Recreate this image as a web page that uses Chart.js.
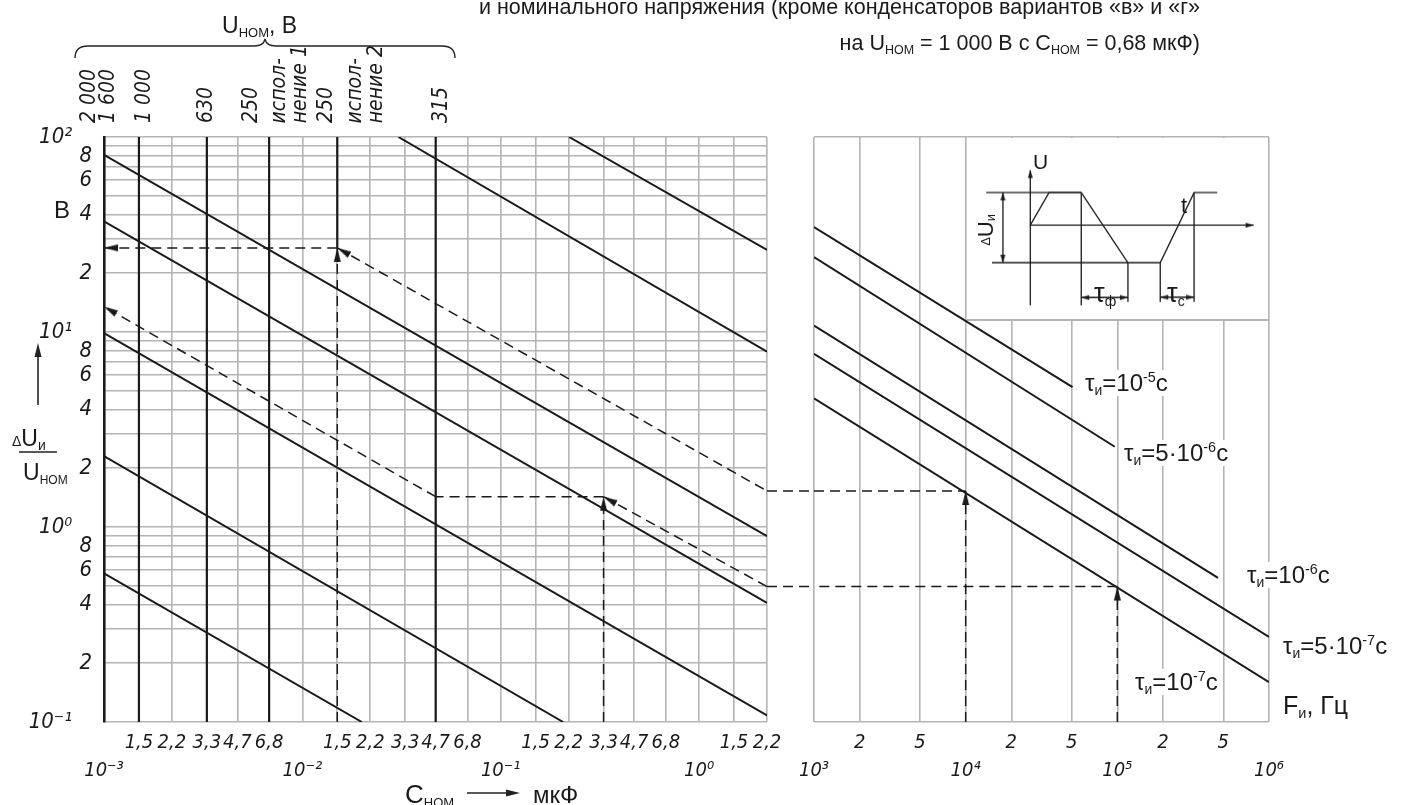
<!DOCTYPE html>
<html><head><meta charset="utf-8"><title>Номограмма</title>
<script src="https://cdn.jsdelivr.net/npm/chart.js@4.4.1/dist/chart.umd.min.js"></script>
<style>
html,body{margin:0;padding:0;background:#fff;}
#wrap{position:relative;width:1407px;height:805px;overflow:hidden;background:#fff;color:#1a1a1a;font-family:'Liberation Sans',Arial,sans-serif;}
#wrap canvas{position:absolute;}
#deco{position:absolute;left:0;top:0;}
.t{position:absolute;white-space:nowrap;line-height:1;}
.n{font-family:'Liberation Sans Narrow','DejaVu Sans Condensed','Liberation Sans',sans-serif;font-style:italic;}
.vr{writing-mode:vertical-rl;transform:rotate(180deg);}
.sb{font-size:0.58em;position:relative;top:0.3em;line-height:0;}
.sp{font-size:0.6em;position:relative;top:-0.6em;line-height:0;}
.tau{font-size:24px;background:#fff;padding:1px 2px;}
</style></head>
<body><div id="wrap">
<canvas id="cL" width="790" height="805" style="left:0;top:0"></canvas>
<canvas id="cG" width="60" height="805" style="left:760px;top:0"></canvas>
<canvas id="cR" width="617" height="805" style="left:790px;top:0"></canvas>
<canvas id="cI" width="301" height="183" style="left:967px;top:138px;background:#fff;border-bottom:2px solid #b4b4b4"></canvas>
<svg id="deco" width="1407" height="805">
  <path d="M75,58 C75,50 79,46 88,46 L254,46 C260,46 264,44 265,39 C266,44 270,46 276,46 L442,46 C451,46 455,50 455,58" fill="none" stroke="#222" stroke-width="1.3"/>
  <line x1="38" y1="405" x2="38" y2="354" stroke="#222" stroke-width="1.6"/>
  <polygon points="38,343 34.5,357 41.5,357" fill="#222"/>
  <line x1="19" y1="452" x2="57" y2="452" stroke="#222" stroke-width="1.3"/>
  <line x1="467" y1="793" x2="508" y2="793" stroke="#222" stroke-width="1.6"/>
  <polygon points="520,793 506,789.5 506,796.5" fill="#222"/>
</svg>

<div class="t" style="right:207px;top:-3px;font-size:21.5px">и номинального напряжения (кроме конденсаторов вариантов «в» и «г»</div>
<div class="t" style="right:207px;top:33px;font-size:21.5px">на U<span class="sb">НОМ</span> = 1 000 В с C<span class="sb">НОМ</span> = 0,68 мкФ)</div>
<div class="t" style="left:222px;top:14px;font-size:23px">U<span class="sb" style="font-size:13px">НОМ</span>, В</div>

<div class="t" style="left:54px;top:198px;font-size:24px">В</div>
<div class="t" style="left:12px;top:427px;font-size:23px"><span style="font-size:14px">Δ</span>U<span class="sb" style="font-size:14px">и</span></div>
<div class="t" style="left:23px;top:461px;font-size:23px">U<span class="sb" style="font-size:12px">НОМ</span></div>
<div class="t" style="left:405px;top:781px;font-size:26px">C<span class="sb" style="font-size:13px">НОМ</span></div>
<div class="t" style="left:533px;top:783px;font-size:24px">мкФ</div>

<div class="t" style="left:1033px;top:151px;font-size:21px">U</div>
<div class="t" style="left:1181px;top:195px;font-size:22px">t</div>
<div class="t vr" style="left:976px;bottom:559px;font-size:22px;line-height:20px;width:20px"><span style="font-size:13px">Δ</span>U<span style="font-size:13px;vertical-align:sub">и</span></div>
<div class="t" style="left:1094px;top:280px;font-size:27px">τ<span class="sb" style="font-size:14px">ф</span></div>
<div class="t" style="left:1167px;top:280px;font-size:27px">τ<span class="sb" style="font-size:14px">с</span></div>

<div class="t tau" style="left:1083px;top:370px">τ<span class="sb">и</span>=10<span class="sp">-5</span>с</div>
<div class="t tau" style="left:1122px;top:440px">τ<span class="sb">и</span>=5·10<span class="sp">-6</span>с</div>
<div class="t tau" style="left:1245px;top:562px">τ<span class="sb">и</span>=10<span class="sp">-6</span>с</div>
<div class="t tau" style="left:1281px;top:633px">τ<span class="sb">и</span>=5·10<span class="sp">-7</span>с</div>
<div class="t tau" style="left:1133px;top:669px">τ<span class="sb">и</span>=10<span class="sp">-7</span>с</div>
<div class="t" style="left:1283px;top:693px;font-size:25px">F<span class="sb">и</span>, Гц</div>
<div id="unom"></div>
</div>
<script>
// ================= DATA =================
// Left nomogram: C_ном (мкФ) on x, ΔU_и/U_ном (В) on y
const cTicks = [0.001,0.0015,0.0022,0.0033,0.0047,0.0068,0.01,0.015,0.022,0.033,0.047,0.068,0.1,0.15,0.22,0.33,0.47,0.68,1,1.5,2.2];
const cTickLabels = [['','10⁻³'],'1,5','2,2','3,3','4,7','6,8',['','10⁻²'],'1,5','2,2','3,3','4,7','6,8',['','10⁻¹'],'1,5','2,2','3,3','4,7','6,8',['','10⁰'],'1,5','2,2'];
const vTicks = [0.1,0.2,0.3,0.4,0.5,0.6,0.7,0.8,0.9,1,2,3,4,5,6,7,8,9,10,20,30,40,50,60,70,80,90,100];
const vTickLabels = ['10⁻¹\u2002\u2002','2','','4','','6','','8','','10⁰\u2002\u2002','2','','4','','6','','8','','10¹\u2002\u2002','2','','4','','6','','8','','10²\u2002\u2002'];
// Right nomogram: F_и (Гц)
const fTicks = [1e3,2e3,5e3,1e4,2e4,5e4,1e5,2e5,5e5,1e6];
const fTickLabels = [['','10³'],'2','5',['','10⁴'],'2','5',['','10⁵'],'2','5',['','10⁶']];

const cRange = [0.001, 2.2];
const vRange = [0.1, 100];
const fRange = [1e3, 1e6];

// bold U_ном lines (2000/1600 is the axis itself): 1000, 630, 250 (исп.1), 315
const uNomC = [0.0015, 0.0033, 0.0068, 0.047];
// 250 В (исполнение 2) line, drawn down to the reading point
const uNom2 = [[0.015, 27], [0.015, 100]];

// parallel ΔU/U_ном lines of the left nomogram [C, V]
const lineA = [[0.0305, 100], [2.2, 7.93]];
const lineB = [[0.221, 100], [2.2, 26.4]];
const lineC = [[0.001, 81], [2.2, 0.898]];
const lineD = [[0.001, 36.9], [2.2, 0.408]];
const lineE = [[0.001, 9.86], [2.2, 0.108]];
const lineF = [[0.001, 2.31], [0.2065, 0.1]];
const lineG = [[0.001, 0.578], [0.01995, 0.1]];

// pulse-duration lines of the right nomogram [F, V]
const tau1e5 = [[1e3, 34.5], [50660, 5.21]];
const tau5e6 = [[1e3, 24.2], [96200, 2.58]];
const tau1e6 = [[1e3, 10.8], [461000, 0.548]];
const tau5e7 = [[1e3, 7.72], [1e6, 0.273]];
const tau1e7 = [[1e3, 4.57], [1e6, 0.160]];

// example 1 (dashed)
const ex1Vert = [[0.015, 0.1], [0.015, 27]];
const ex1Hor = [[0.015, 27], [0.001, 27]];
const ex1Diag = [[0.015, 27], [2.2, 1.53]];
const ex1Gap = [[0, 1.53], [1, 1.53]];
const ex1RHor = [[1e3, 1.53], [1e4, 1.53]];
const ex1RVert = [[1e4, 0.1], [1e4, 1.53]];
// example 2 (dashed)
const ex2RVert = [[1e5, 0.1], [1e5, 0.495]];
const ex2RHor = [[1e5, 0.495], [1e3, 0.495]];
const ex2Gap = [[0, 0.495], [1, 0.495]];
const ex2Diag1 = [[2.2, 0.495], [0.33, 1.43]];
const ex2Vert = [[0.33, 0.1], [0.33, 1.43]];
const ex2Hor = [[0.33, 1.43], [0.047, 1.43]];
const ex2Diag2 = [[0.047, 1.43], [0.001, 13.5]];

// inset pulse schematic (arbitrary t / U units)
const pulseT = [0, 1.94, 5.27, 10.1, 13.44, 16.94, 19.34];
const pulseU = [0, 3.5, 3.5, -4.0, -4.0, 3.5, 3.5];
const insetTop = [[-4.56, 3.5], [5.27, 3.5]];
const insetBottom = [[-3.96, -4.0], [10.1, -4.0]];
const insetUAxis = [[0, -8.57], [0, 5.9]];
const insetTAxis = [[0, 0], [23.1, 0]];
const insetDU = [[-2.83, 3.5], [-2.83, -4.0]];
const insetMarks = [[[5.27, 3.5], [5.27, -8.57]], [[10.1, -4.0], [10.1, -8.2]], [[13.44, -4.0], [13.44, -8.2]], [[16.94, 3.5], [16.94, -8.2]]];
const insetTauF = [[5.27, -7.73], [10.1, -7.73]];
const insetTauC = [[13.44, -7.7], [16.94, -7.7]];

// U_ном labels above the left nomogram
const uNomLabels = [['2 000', 88], ['1 600', 107], ['1 000', 143], ['630', 205], ['250', 250], ['испол-', 278], ['нение 1', 299], ['250', 325], ['испол-', 354], ['нение 2', 375], ['315', 440]];

// ================= RENDER =================
const INK = '#1a1a1a', GRID = '#b4b4b4';
const NARROW = "'Liberation Sans Narrow','DejaVu Sans Condensed','Liberation Sans',sans-serif";

const holder = document.getElementById('unom');
uNomLabels.forEach(([txt, cx]) => {
  const d = document.createElement('div');
  d.className = 't n vr';
  d.textContent = txt;
  d.style.cssText = `left:${cx - 12}px;bottom:682px;font-size:21px;line-height:24px;width:24px;`;
  holder.appendChild(d);
});

function makeArrow(len, wid) {
  const c = document.createElement('canvas');
  c.width = Math.ceil(wid) + 2; c.height = 2 * len + 2;
  const g = c.getContext('2d');
  const cx = c.width / 2, cy = c.height / 2;
  g.fillStyle = INK;
  g.beginPath(); g.moveTo(cx, cy); g.lineTo(cx - wid / 2, cy + len); g.lineTo(cx + wid / 2, cy + len); g.closePath(); g.fill();
  return c;
}
const ARROW = makeArrow(14, 7);
const ARROW_S = makeArrow(8, 5);

function rot(c) {
  const ds = c.dataset, i = c.dataIndex;
  const j = i === 0 ? 1 : i - 1;
  const xs = c.chart.scales[ds.xAxisID || 'x'], ys = c.chart.scales[ds.yAxisID || 'y'];
  const p = ds.data[i], q = ds.data[j];
  const dx = xs.getPixelForValue(p.x) - xs.getPixelForValue(q.x);
  const dy = ys.getPixelForValue(p.y) - ys.getPixelForValue(q.y);
  return Math.atan2(dx, -dy) * 180 / Math.PI;
}
const hasArrow = c => (c.dataset.arrows || []).includes(c.dataIndex);

function line(arr, o = {}) {
  return Object.assign({
    data: arr.map(([x, y]) => ({x, y})),
    showLine: true, borderColor: INK, borderWidth: 2, fill: false, tension: 0,
    pointStyle: c => hasArrow(c) ? (c.dataset.small ? ARROW_S : ARROW) : 'circle',
    pointRadius: c => hasArrow(c) ? 5 : 0,
    pointRotation: rot,
    pointBorderWidth: 0, pointBackgroundColor: INK
  }, o);
}
const dash = (arr, arrows = []) => line(arr, {borderDash: [10, 6], borderWidth: 1.5, arrows});

const base = {
  responsive: false, animation: false, events: [], devicePixelRatio: 1,
  plugins: {legend: {display: false}, tooltip: {enabled: false}}
};
const tickFont = {family: NARROW, style: 'italic', size: 20, lineHeight: 1.4};

// ---- left chart ----
new Chart(document.getElementById('cL'), {
  type: 'scatter',
  data: {datasets: [
    ...uNomC.map(c => line([[c, vRange[0]], [c, vRange[1]]], {borderWidth: 2.2})),
    line(uNom2, {borderWidth: 2.2}),
    ...[lineA, lineB, lineC, lineD, lineE, lineF, lineG].map(l => line(l)),
    dash(ex1Vert, [1]), dash(ex1Hor, [1]), dash(ex1Diag, [0]),
    dash(ex2Diag1, [1]), dash(ex2Vert, [1]), dash(ex2Hor), dash(ex2Diag2, [1])
  ]},
  options: Object.assign({}, base, {
    layout: {padding: {left: 0, right: 23, top: 137, bottom: 0}},
    scales: {
      x: {type: 'logarithmic', position: 'bottom', min: cRange[0], max: cRange[1], bounds: 'data',
        afterBuildTicks: s => { s.ticks = cTicks.map(v => ({value: v})); },
        afterFit: s => { s.height = 83; s.paddingLeft = 0; s.paddingRight = 0; },
        grid: {color: c => c.index === 0 ? 'rgba(0,0,0,0)' : GRID, lineWidth: 1.6, drawTicks: false},
        border: {display: false},
        ticks: {autoSkip: false, maxRotation: 0, minRotation: 0, padding: 7, color: INK, font: tickFont,
          callback: (v, i) => cTickLabels[i]}
      },
      y: {type: 'logarithmic', position: 'left', min: vRange[0], max: vRange[1], bounds: 'data',
        afterBuildTicks: s => { s.ticks = vTicks.map(v => ({value: v})); },
        afterFit: s => { s.width = 104; s.paddingTop = 0; s.paddingBottom = 0; },
        grid: {color: GRID, lineWidth: 1.6, drawTicks: false},
        border: {display: true, color: INK, width: 2.6},
        ticks: {autoSkip: false, padding: 12, color: INK, font: {family: NARROW, style: 'italic', size: 22},
          callback: (v, i) => vTickLabels[i]}
      }
    }
  })
});

// ---- gap between the two nomograms (continuation of dashed reading lines) ----
new Chart(document.getElementById('cG'), {
  type: 'scatter',
  data: {datasets: [dash(ex1Gap), dash(ex2Gap)]},
  options: Object.assign({}, base, {
    layout: {padding: {left: 7, right: 6, top: 137, bottom: 83}},
    scales: {
      x: {type: 'linear', min: 0, max: 1, display: false},
      y: {type: 'logarithmic', min: vRange[0], max: vRange[1], display: false}
    }
  })
});

// ---- right chart ----
new Chart(document.getElementById('cR'), {
  type: 'scatter',
  data: {datasets: [
    ...[tau1e5, tau5e6, tau1e6, tau5e7, tau1e7].map(l => line(l)),
    dash(ex1RHor), dash(ex1RVert, [1]), dash(ex2RVert, [1]), dash(ex2RHor)
  ]},
  options: Object.assign({}, base, {
    layout: {padding: {left: 24, right: 138, top: 137, bottom: 0}},
    scales: {
      x: {type: 'logarithmic', position: 'bottom', min: fRange[0], max: fRange[1], bounds: 'data',
        afterBuildTicks: s => { s.ticks = fTicks.map(v => ({value: v})); },
        afterFit: s => { s.height = 83; s.paddingLeft = 0; s.paddingRight = 0; },
        grid: {color: GRID, lineWidth: 1.6, drawTicks: false},
        border: {display: false},
        ticks: {autoSkip: false, maxRotation: 0, minRotation: 0, padding: 7, color: INK, font: tickFont,
          callback: (v, i) => fTickLabels[i]}
      },
      y: {type: 'logarithmic', position: 'left', min: vRange[0], max: vRange[1], bounds: 'data',
        afterBuildTicks: s => { s.ticks = [{value: vRange[0]}, {value: vRange[1]}]; },
        afterFit: s => { s.width = 0; s.paddingTop = 0; s.paddingBottom = 0; },
        grid: {color: GRID, lineWidth: 1.6, drawTicks: false},
        border: {display: false},
        ticks: {display: false}
      }
    }
  })
});

// ---- inset: pulse schematic ----
const thin = (arr, arrows = []) => line(arr, {borderWidth: 1.3, arrows, small: true});
new Chart(document.getElementById('cI'), {
  type: 'scatter',
  data: {datasets: [
    thin(pulseT.map((t, i) => [t, pulseU[i]])),
    thin(insetTop), thin(insetBottom),
    thin(insetUAxis, [1]), thin(insetTAxis, [1]),
    thin(insetDU, [0, 1]),
    ...insetMarks.map(m => thin(m)),
    thin(insetTauF, [0, 1]), thin(insetTauC, [0, 1])
  ]},
  options: Object.assign({}, base, {
    layout: {padding: 0},
    scales: {
      x: {type: 'linear', min: -6.03, max: 24.07, display: false},
      y: {type: 'linear', min: -9.5, max: 8.8, display: false}
    }
  })
});
</script>
</body></html>
